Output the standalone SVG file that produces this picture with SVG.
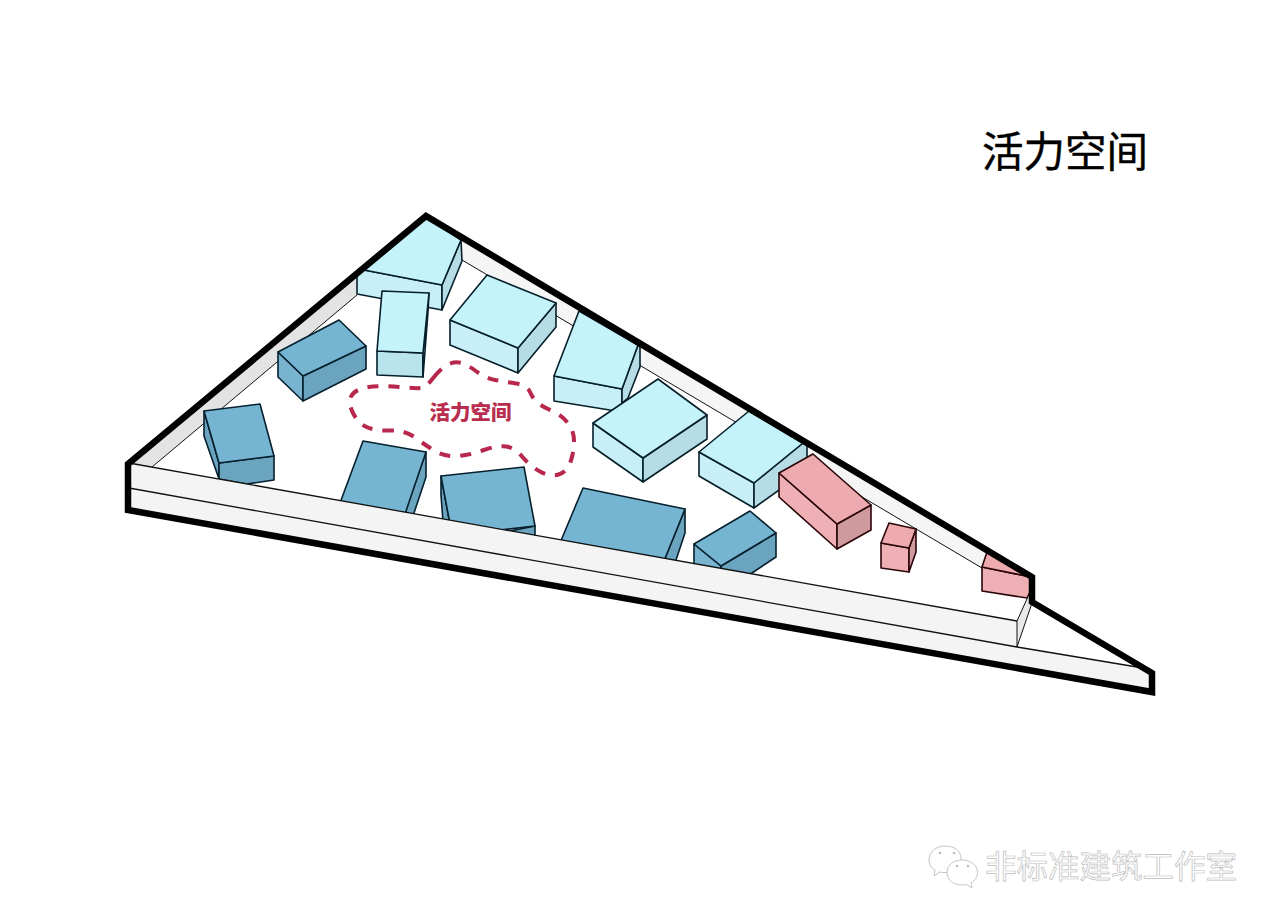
<svg xmlns="http://www.w3.org/2000/svg" width="1280" height="923" viewBox="0 0 1280 923">
<style>
.cjk{font-family:"Noto Sans CJK SC","Noto Sans",sans-serif}
.b polygon{stroke-width:1.6;stroke-linejoin:round}
.lb polygon{stroke:#06202a}
.db polygon{stroke:#06202e}
.pk polygon{stroke:#2a0609}
.lb .t{fill:#c5f3fb}.lb .f{fill:#c8eff7}.lb .r{fill:#b6dce5}
.db .t{fill:#76b5d2}.db .f{fill:#78b4d0}.db .r{fill:#6ba4bf}
.pk .t{fill:#eeabaf}.pk .f{fill:#eeb0b4}.pk .r{fill:#cf9a9d}
</style>
<rect width="1280" height="923" fill="#fff"/>
<g id="site-walls">
<polygon points="129,463 357,272 357,295 152,467" fill="#e3e3e3"/>
<polygon points="426,216 1032,577 982,568 462,260 462,240" fill="#f5f5f5"/>
<path d="M152,467 357,295 M462,260 982,568" fill="none" stroke="#111" stroke-width="1"/>
</g>
<g id="building-1" class="b lb"><polygon class="f" points="357,272 364,270 442,285 442,310 357,294"/><polygon class="r" points="442,285 461,240 462,261 442,310"/><polygon class="t" points="426,216 461,240 442,285 364,270"/></g>
<g id="building-2" class="b lb"><polygon class="f" style="fill:#b9e3ed" points="377,351 423,353 423,377 377,375"/><polygon class="r" points="429,293 428,312 423,377 423,353"/><polygon class="t" points="382,291 429,293 423,353 377,351"/></g>
<g id="building-3" class="b lb"><polygon class="f" points="450,320 518,348 518,373 450,345"/><polygon class="r" points="518,348 556,303 556,327 518,373"/><polygon class="t" points="487,275 556,303 518,348 450,320"/></g>
<g id="building-4" class="b lb"><polygon class="f" points="554,376 622,389 622,412 554,401"/><polygon class="r" points="622,389 638,345 640,347 640,367 628,398 622,403"/><polygon class="t" points="579,311 638,345 622,389 554,376"/></g>
<g id="building-5" class="b lb"><polygon class="f" points="593,423 643,458 643,482 593,447"/><polygon class="r" points="643,458 707,415 707,439 643,482"/><polygon class="t" points="658,379 707,415 643,458 593,423"/></g>
<g id="building-6" class="b lb"><polygon class="f" points="699,452 754,483 754,508 699,476"/><polygon class="r" points="754,483 803,443 807,445 807,470 754,508"/><polygon class="t" points="749,411 803,443 754,483 699,452"/></g>
<g id="building-7" class="b db"><polygon class="f" points="278,352 303,376 303,401 278,377"/><polygon class="r" points="303,376 366,346 366,369 303,401"/><polygon class="t" points="339,320 366,346 303,376 278,352"/></g>
<g id="building-8" class="b db"><polygon class="r" points="204,411 219,463 219,479 204,436"/><polygon class="r" points="219,463 274,456 274,480 247,484 219,479"/><polygon class="t" points="204,411 260,404 274,456 219,463"/></g>
<g id="building-9" class="b db"><polygon class="r" points="426,452 426,477 413,516 405,512"/><polygon class="t" points="363,441 426,452 405,514 340,503"/></g>
<g id="building-10" class="b db"><polygon class="r" points="441,476 450,524 443,522 441,495"/><polygon class="r" points="535,526 535,540 500,533"/><polygon class="t" points="441,476 524,467 535,526 500,530 450,524"/></g>
<g id="building-11" class="b db"><polygon class="r" points="685,509 685,533 675,563 664,561"/><polygon class="t" points="583,488 685,509 664,561 560,543"/></g>
<g id="building-12" class="b db"><polygon class="f" points="694,544 721,566 721,572 694,567"/><polygon class="r" points="721,566 776,533 776,557 749,575 721,572"/><polygon class="t" points="750,511 776,533 721,566 694,544"/></g>
<g id="pink-1" class="b pk"><polygon class="f" points="779,473 837,524 837,549 779,497"/><polygon class="r" points="837,524 871,505 871,530 837,549"/><polygon class="t" points="813,454 871,505 837,524 779,473"/></g>
<g id="pink-2" class="b pk"><polygon class="f" points="881,543 909,548 909,572 881,568"/><polygon class="r" points="909,548 916,529 916,552 909,572"/><polygon class="t" points="889,523 916,529 909,548 881,543"/></g>
<g id="pink-3" class="b pk"><polygon class="f" points="982,567 1031,577 1031,590 1027,598 982,591"/><polygon class="t" points="987,552 1031,577 982,567"/></g>
<g id="site-front">
<polygon points="129,463 1017,621 1017,647 1143,668 1153,673 1153,693 129,510" fill="#f4f4f4"/>
<polygon points="1017,621 1031,590 1032,603 1017,647" fill="#e9e9e9" stroke="#111" stroke-width="1"/>
<path d="M129,463 1017,621 M129,488 1017,647 1143,668" fill="none" stroke="#111" stroke-width="1.300"/>
</g>
<g id="site-outline"><polygon points="128,464 426,216 1032,577 1032,602 1152,673 1152,692 128,510" fill="none" stroke="#000" stroke-width="6.500" stroke-linejoin="miter"/></g>
<g id="active-space">
<path d="M434,377Q441,368 448,364.500Q455,361 461.500,363Q468,365 476.500,371.500Q485,378 495,380Q505,382 516,383.500Q527,385 530,392Q533,399 538,403Q543,407 551.500,410.500Q560,414 567,422Q574,430 574,441Q574,452 570.500,462Q567,472 558.500,474.500Q550,477 540,471.500Q530,466 522.500,457Q515,448 506.500,446.500Q498,445 484,450Q470,455 457.500,456Q445,457 435,451Q425,445 415,437.500Q405,430 390,430.500Q375,431 366.500,427Q358,423 353,413Q348,403 351,396.500Q354,390 366,387.500Q378,385 399,387Q420,389 423.500,387.500Q427,386 434,377Z" fill="none" stroke="#b8274c" stroke-width="4" stroke-dasharray="11 10"/>
<text class="cjk" x="470.500" y="420" font-size="20.500" font-weight="900" fill="#b92d4f" text-anchor="middle">活力空间</text>
</g>
<text id="title" class="cjk" x="1065" y="167" font-size="41.500" fill="#000" stroke="#000" stroke-width="0.400" text-anchor="middle">活力空间</text>
<g id="watermark">
<g fill="#fff" stroke="#c4c4c4" stroke-width="1">
<path d="M945,846c-9,0-16,6-16,14c0,4 2,8 6,10l-1,6l6,-4c2,0.500 3,0.500 5,0.500c9,0 16,-6 16,-14s-7,-12.500-16,-12.500z"/>
<path d="M962,860c-9,0-15,5.500-15,12.500s6,12.500 15,12.500c1.500,0 3,0 4.500,-0.500l5.500,3.500l-1,-5c4,-2.500 6.500,-6 6.500,-10.500c0,-7-6.500,-12.500-15.500,-12.500z"/>
</g>
<g fill="#bbb"><circle cx="940" cy="853" r="1.300"/><circle cx="954" cy="853" r="1.300"/><circle cx="957" cy="866" r="1.300"/><circle cx="968" cy="866" r="1.300"/></g>
<text class="cjk" x="985" y="878" font-size="31.500" fill="#fff" stroke="#bdbdbd" stroke-width="0.700">非标准建筑工作室</text>
</g>
</svg>
